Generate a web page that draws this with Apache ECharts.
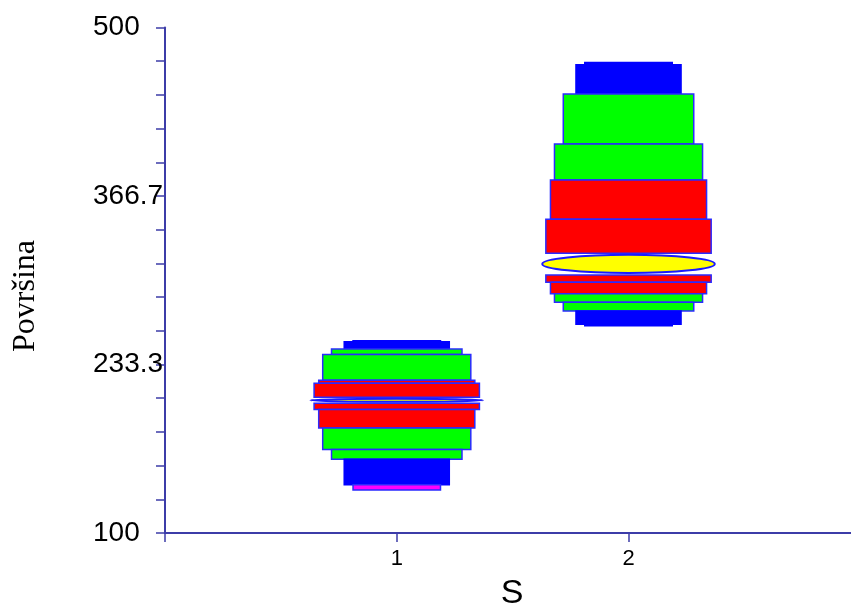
<!DOCTYPE html>
<html>
<head>
<meta charset="utf-8">
<script src="https://cdn.jsdelivr.net/npm/echarts@6/dist/echarts.min.js"></script>
<style>html,body{margin:0;padding:0;background:#fff}#c{width:851px;height:611px}</style>
</head>
<body>
<div id="c"></div>
<script>
// ---- data ----
const categories = [1, 2];
// band boundaries above the median, top to bottom
const upperBounds = [
  [252.2, 251.4, 245.6, 241.3, 220.9, 218.5, 207.4],
  [472.3, 470.5, 447.3, 407.9, 379.4, 348.3, 321.4]
];
// band boundaries below the median, top to bottom
const lowerBounds = [
  [202.7, 197.8, 183.1, 166.1, 158.3, 138.2, 134.0],
  [304.2, 298.5, 289.4, 282.6, 275.7, 265.2, 263.9]
];
const medianLow = [203.8, 305.8];
const medianHigh = [206.2, 320.1];
const yTickLabels = [100, 233.333, 366.667, 500];
const xTickLabels = [1, 2];

// ---- styles ----
const BLUE = '#0000ff', GREEN = '#00ff00', RED = '#ff0000', MAG = '#ff00ff', YEL = '#ffff00';
const EDGE = '#2a2aff';
const AXIS = '#3c3ca8';
// half widths (x units) for levels: cap, blue, greenThin, greenBig, redThin, redBig
const halfW = [0.1887, 0.2267, 0.2815, 0.3195, 0.3368, 0.3567];
const ellHalfW = 0.3722;
const upperColors = [[BLUE, BLUE, GREEN, GREEN, RED, RED], [BLUE, BLUE, GREEN, GREEN, RED, RED]];
const lowerColors = [[RED, RED, GREEN, GREEN, BLUE, MAG], [RED, RED, GREEN, GREEN, BLUE, BLUE]];

const yTicks = [];
for (let k = 0; k <= 15; k++) yTicks.push(100 + k * 400 / 15);

function rect(api, x, hw, yTop, yBot, color) {
  const p1 = api.coord([x - hw, yTop]);
  const p2 = api.coord([x + hw, yBot]);
  return {
    type: 'rect',
    shape: { x: p1[0], y: p1[1], width: p2[0] - p1[0], height: p2[1] - p1[1] },
    style: { fill: color, stroke: color === BLUE ? BLUE : EDGE, lineWidth: 1.5 }
  };
}

const chart = echarts.init(document.getElementById('c'), null, { renderer: 'canvas' });
chart.setOption({
  animation: false,
  backgroundColor: '#fff',
  grid: { left: 165, right: 0, top: 27.5, bottom: 78, containLabel: false },
  xAxis: {
    type: 'value', min: 0, max: 2.96,
    axisLine: { lineStyle: { color: AXIS, width: 2 } },
    axisTick: { show: true, length: 9, customValues: [0, 1, 2], lineStyle: { color: AXIS, width: 1.5 } },
    axisLabel: { customValues: xTickLabels, fontFamily: 'Liberation Sans', fontSize: 22, color: '#000', margin: 15 },
    splitLine: { show: false }
  },
  yAxis: {
    type: 'value', min: 100, max: 500,
    axisLine: { show: true, lineStyle: { color: AXIS, width: 2 } },
    axisTick: { show: true, length: 9, customValues: yTicks, lineStyle: { color: AXIS, width: 1.5 } },
    axisLabel: {
      customValues: yTickLabels, fontFamily: 'Liberation Sans', fontSize: 28, color: '#000',
      margin: 72, align: 'left',
      formatter: v => (Math.abs(v - Math.round(v)) < 1e-6 ? String(Math.round(v)) : v.toFixed(1))
    },
    splitLine: { show: false }
  },
  graphic: [{
    type: 'text', x: 26, y: 296, rotation: Math.PI / 2,
    style: { text: 'Površina', font: '32px "Liberation Serif"', fill: '#000', align: 'center', verticalAlign: 'middle' }
  }, {
    type: 'text', x: 512, y: 594,
    style: { text: 'S', font: '34px "Liberation Sans"', fill: '#000', align: 'center', verticalAlign: 'middle' }
  }],
  series: [{
    type: 'custom',
    clip: false,
    data: categories.map((c, i) => [c, i]),
    renderItem: function (params, api) {
      const x = api.value(0);
      const i = api.value(1);
      const children = [];
      const ub = upperBounds[i], lb = lowerBounds[i];
      for (let k = 0; k < 6; k++) children.push(rect(api, x, halfW[k], ub[k], ub[k + 1], upperColors[i][k]));
      for (let k = 0; k < 6; k++) children.push(rect(api, x, halfW[5 - k], lb[k], lb[k + 1], lowerColors[i][k]));
      const c1 = api.coord([x - ellHalfW, medianHigh[i]]);
      const c2 = api.coord([x + ellHalfW, medianLow[i]]);
      children.push({
        type: 'ellipse',
        shape: { cx: (c1[0] + c2[0]) / 2, cy: (c1[1] + c2[1]) / 2, rx: (c2[0] - c1[0]) / 2, ry: Math.max((c2[1] - c1[1]) / 2, 1) },
        style: { fill: YEL, stroke: '#1a1aff', lineWidth: 2 }
      });
      return { type: 'group', children: children };
    }
  }]
});
</script>
</body>
</html>
